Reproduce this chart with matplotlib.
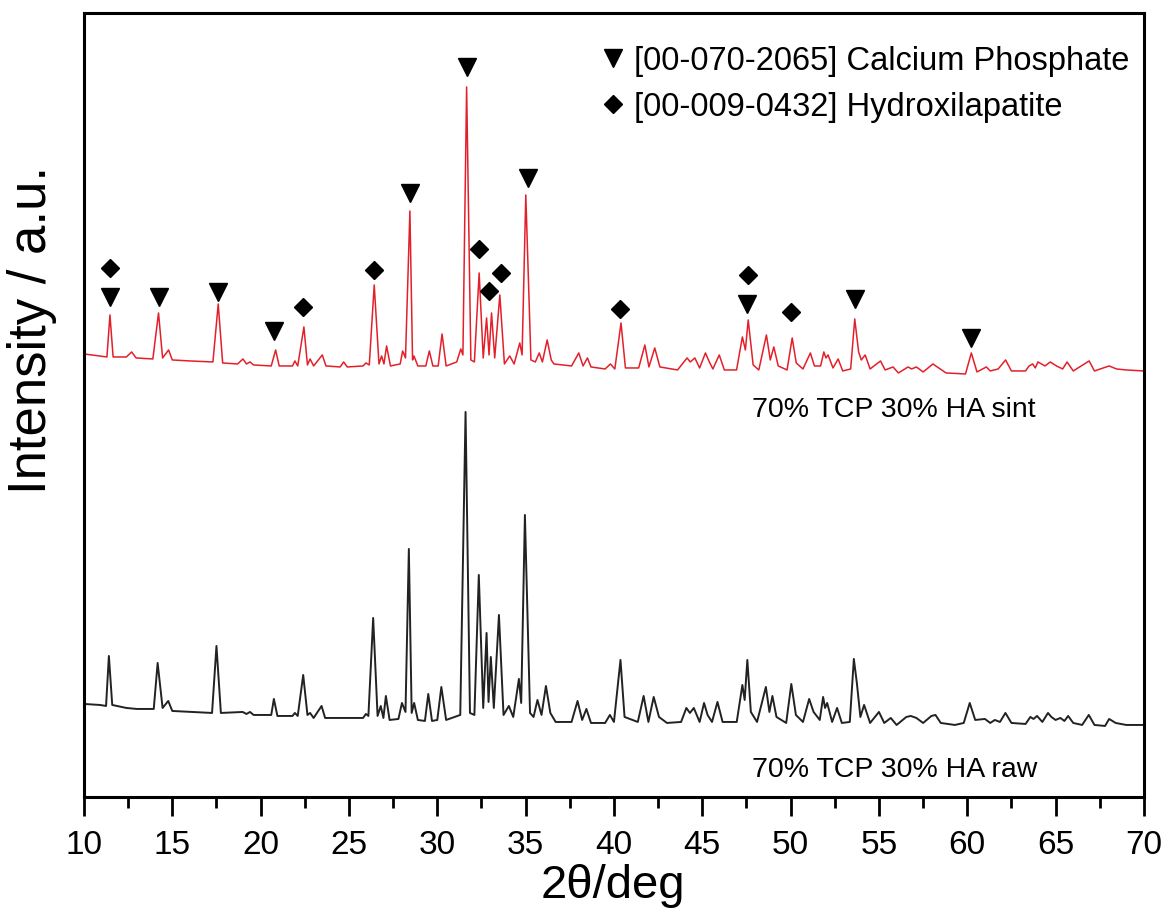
import matplotlib
matplotlib.use("Agg")
import matplotlib.pyplot as plt
from matplotlib.ticker import MultipleLocator

plt.rcParams['font.family'] = ['Liberation Sans', 'DejaVu Sans']

# sintered sample (red), 2theta in deg / intensity in a.u.
sint_2theta = [10.0, 10.9, 11.3, 11.47, 11.65, 12.4, 12.7, 12.95, 13.9, 14.22, 14.45, 14.79, 15.0,
               16.0, 17.3, 17.6, 17.85, 18.7, 19.0, 19.2, 19.4, 19.6, 20.6, 20.85, 21.05, 21.8,
               21.94, 22.1, 22.45, 22.65, 22.8, 23.0, 23.49, 23.7, 24.5, 24.7, 24.9, 25.8, 25.96,
               26.15, 26.43, 26.7, 26.85, 26.98, 27.13, 27.35, 27.9, 28.04, 28.2, 28.45, 28.6,
               28.68, 28.9, 29.35, 29.55, 29.75, 30.05, 30.27, 30.5, 31.1, 31.33, 31.45, 31.66,
               31.9, 32.1, 32.37, 32.6, 32.79, 32.93, 33.07, 33.25, 33.54, 33.8, 34.1, 34.35,
               34.67, 34.8, 35.01, 35.3, 35.55, 35.77, 35.95, 36.22, 36.45, 36.6, 37.6, 38.01,
               38.25, 38.5, 38.7, 39.5, 39.8, 40.05, 40.4, 40.65, 41.4, 41.75, 41.98, 42.31, 42.6,
               43.6, 44.14, 44.32, 44.58, 44.85, 45.18, 45.4, 45.6, 45.96, 46.25, 46.94, 47.27,
               47.44, 47.6, 47.88, 48.2, 48.63, 48.85, 49.05, 49.3, 49.8, 50.09, 50.32, 50.7,
               51.12, 51.35, 51.7, 51.88, 52.0, 52.12, 52.4, 52.69, 52.95, 53.4, 53.63, 53.85,
               54.0, 54.22, 54.5, 55.09, 55.35, 55.8, 56.1, 56.65, 56.85, 57.12, 57.5, 58.06,
               58.3, 58.8, 59.9, 60.23, 60.55, 61.08, 61.3, 61.75, 62.17, 62.5, 63.3, 63.5, 63.7,
               63.85, 64.0, 64.4, 64.7, 65.05, 65.4, 65.65, 66.0, 66.9, 67.2, 68.03, 68.45, 69.0,
               70.0]
sint_int = [443, 441, 440, 482, 440, 440, 445, 439, 438, 484, 439, 447, 437,
            436, 435, 493, 434, 433, 438, 433, 435, 432, 431, 447, 431, 431,
            436, 431, 470, 432, 438, 431, 442, 431, 430, 435, 430, 431, 434,
            432, 512, 433, 441, 433, 451, 431, 433, 446, 439, 586, 437,
            441, 431, 431, 446, 431, 431, 463, 431, 435, 448, 442, 710,
            437, 435, 524, 439, 479, 442, 484, 439, 502, 433, 441, 433,
            454, 442, 602, 437, 435, 444, 435, 457, 437, 433, 431, 444,
            431, 439, 430, 428, 433, 428, 474, 429, 429, 452, 430, 449, 430,
            427, 439, 435, 439, 429, 444, 435, 428, 442, 427, 427, 460,
            447, 477, 432, 427, 462, 437, 450, 431, 427, 459, 434, 428,
            444, 431, 431, 445, 439, 442, 429, 438, 426, 428, 478, 445,
            437, 442, 428, 436, 427, 430, 424, 430, 428, 430, 425, 433,
            430, 424, 423, 444, 425, 430, 426, 428, 437, 426, 426, 431, 433,
            429, 435, 431, 435, 431, 428, 435, 426, 436, 426, 431, 428, 427,
            426]

# raw sample (black)
raw_2theta = [10.0, 10.9, 11.25, 11.41, 11.6, 12.4, 13.0, 13.95, 14.17, 14.45, 14.77, 15.0,
              17.25, 17.5, 17.75, 18.98, 19.2, 19.4, 19.6, 20.6, 20.75, 20.95, 21.8, 21.94,
              22.1, 22.41, 22.65, 22.8, 23.0, 23.45, 23.65, 25.8, 25.96, 26.1, 26.37, 26.62,
              26.8, 26.95, 27.09, 27.3, 27.8, 28.0, 28.2, 28.39, 28.55, 28.69, 28.9, 29.3,
              29.49, 29.7, 30.0, 30.23, 30.5, 31.3, 31.6, 31.85, 32.1, 32.35, 32.6, 32.79,
              32.9, 33.03, 33.2, 33.49, 33.75, 34.05, 34.3, 34.62, 34.75, 34.96, 35.25, 35.45,
              35.67, 35.9, 36.15, 36.4, 36.7, 37.6, 37.94, 38.2, 38.44, 38.7, 39.5, 39.77,
              40.0, 40.37, 40.6, 41.35, 41.68, 41.95, 42.25, 42.55, 43.0, 43.8, 44.1, 44.3,
              44.52, 44.85, 45.1, 45.3, 45.55, 45.86, 46.15, 46.95, 47.27, 47.4, 47.55, 47.75,
              48.1, 48.6, 48.8, 48.97, 49.2, 49.75, 50.04, 50.3, 50.7, 51.05, 51.3, 51.65,
              51.84, 51.95, 52.07, 52.35, 52.63, 52.9, 53.35, 53.58, 53.75, 53.95, 54.16,
              54.5, 55.0, 55.3, 55.67, 56.0, 56.55, 56.8, 57.12, 57.5, 57.97, 58.2, 58.5,
              59.3, 59.8, 60.14, 60.45, 61.0, 61.3, 61.56, 61.85, 62.16, 62.5, 63.3, 63.57,
              63.75, 63.95, 64.25, 64.57, 64.76, 65.0, 65.27, 65.5, 65.71, 66.0, 66.5, 66.88,
              67.2, 67.8, 68.03, 68.4, 69.0, 70.0]
raw_int = [93, 92, 91, 141, 92, 89, 88, 88, 134, 89, 96, 86,
           84, 151, 84, 85, 83, 85, 82, 82, 98, 81, 81, 84,
           81, 122, 82, 84, 79, 91, 79, 79, 83, 81, 179, 81,
           91, 79, 101, 77, 78, 94, 85, 248, 84, 94, 77, 76,
           103, 76, 77, 110, 77, 82, 385, 84, 82, 222, 89, 164,
           95, 140, 89, 182, 82, 91, 80, 118, 94, 282, 84, 80,
           97, 82, 111, 84, 75, 75, 96, 77, 88, 74, 74, 82,
           75, 137, 80, 75, 101, 75, 100, 80, 74, 75, 89, 84,
           89, 75, 94, 82, 75, 95, 75, 75, 112, 97, 137, 85,
           75, 110, 85, 101, 80, 74, 113, 82, 75, 98, 85, 77,
           100, 89, 94, 75, 89, 74, 75, 138, 114, 80, 92,
           74, 85, 74, 79, 72, 80, 81, 79, 74, 81, 82, 74,
           72, 74, 94, 77, 78, 74, 77, 75, 84, 74, 73, 80,
           78, 81, 75, 84, 80, 77, 79, 76, 81, 74, 72, 82,
           72, 71, 78, 74, 72, 72]

# phase markers
tcp_2theta = [11.47, 14.22, 17.6, 20.75, 28.45, 31.66, 35.15, 47.54, 53.63, 60.23]
tcp_int = [500, 500, 505, 466, 604, 730, 619, 493, 498, 459]
ha_2theta = [11.47, 22.41, 26.41, 32.37, 32.94, 33.6, 40.37, 47.58, 50.04]
ha_int = [529, 490, 527, 548, 506, 524, 488, 522, 485]

fig = plt.figure(figsize=(11.63, 9.13), dpi=100)
ax = fig.add_axes([0.0722, 0.1271, 0.9114, 0.8587])

ax.plot(sint_2theta, sint_int, color='#e3202a', lw=1.1)
ax.plot(raw_2theta, raw_int, color='#222222', lw=1.4)

tcp, = ax.plot(tcp_2theta, tcp_int, 'v', color='black', ms=13, ls='none',
               label='[00-070-2065] Calcium Phosphate')
ha, = ax.plot(ha_2theta, ha_int, 'D', color='black', ms=9, ls='none',
              label='[00-009-0432] Hydroxilapatite')

ax.text(47.8, 387, '70% TCP 30% HA sint', fontsize=20.5, va='center', ha='left')
ax.text(47.8, 27, '70% TCP 30% HA raw', fontsize=20.5, va='center', ha='left')

ax.legend(handles=[tcp, ha], loc='upper left', bbox_to_anchor=(0.4896, 0.958),
          frameon=False, fontsize=23.5, handlelength=0.6, handletextpad=0.35,
          labelspacing=0.45, borderpad=0, borderaxespad=0)

ax.set_xlim(10, 70)
ax.set_ylim(0, 784)
ax.xaxis.set_major_locator(MultipleLocator(5))
ax.xaxis.set_minor_locator(MultipleLocator(2.5))
ax.set_yticks([])
ax.tick_params(axis='x', which='major', direction='out', length=14, width=2, labelsize=24, pad=10)
ax.tick_params(axis='x', which='minor', direction='out', length=8, width=2)
for s in ax.spines.values():
    s.set_linewidth(2.2)

ax.set_xlabel('2θ/deg', fontsize=34, va='center')
ax.xaxis.set_label_coords(0.499, -0.113)
ax.set_ylabel('Intensity / a.u.', fontsize=38, va='center')
ax.yaxis.set_label_coords(-0.049, 0.596)

fig.savefig('out.png', dpi=100)
